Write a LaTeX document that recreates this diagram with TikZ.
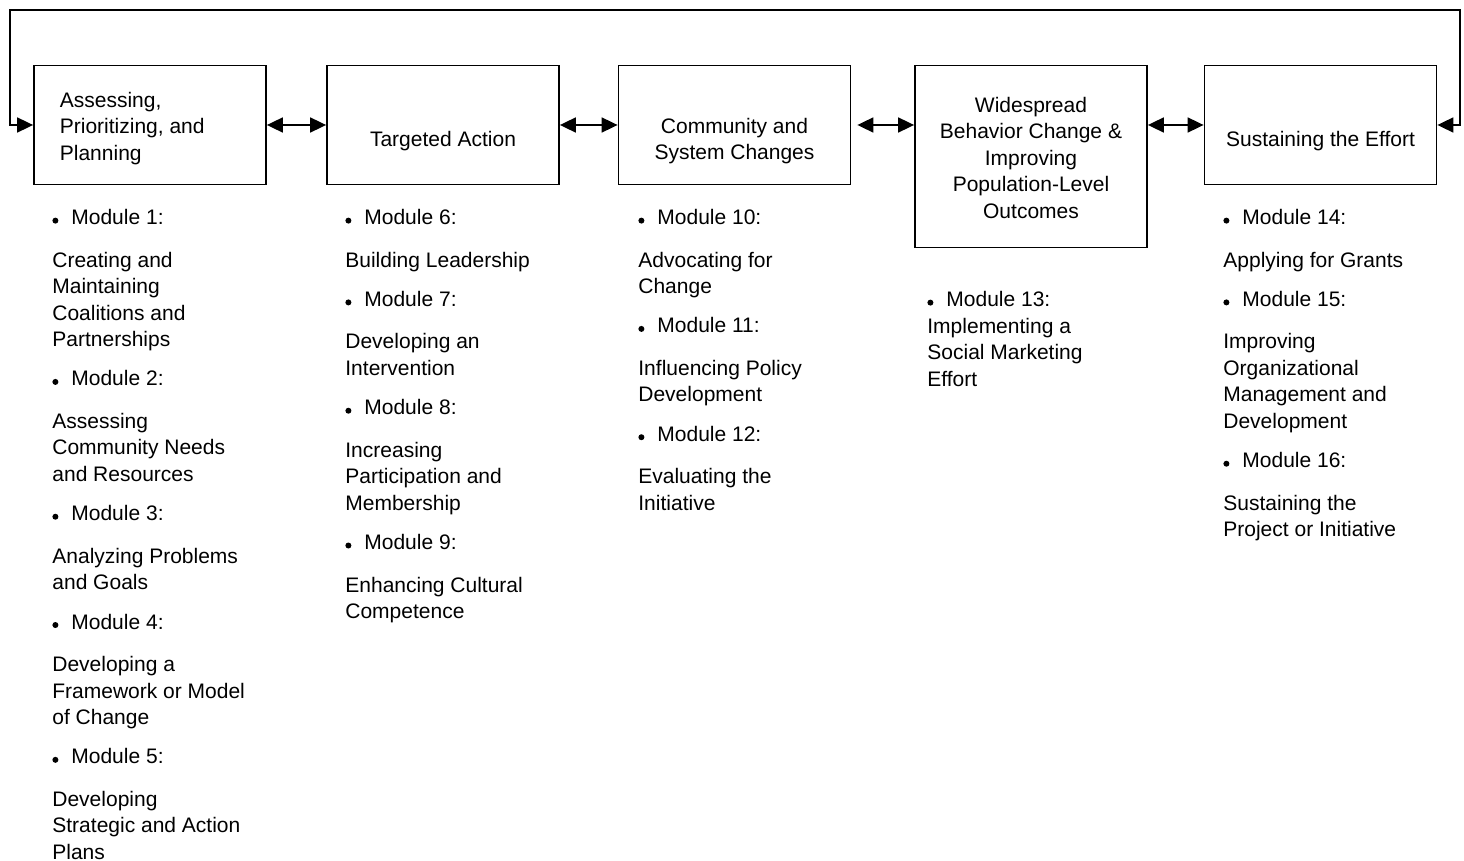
\documentclass[tikz,border=0pt]{standalone}
\usepackage{fontspec}
\setmainfont{Liberation Sans}
\usetikzlibrary{arrows.meta}

\newcommand{\modbul}[1]{\tikz[baseline=0pt]\fill (1.5pt,2pt) circle (1.5pt);\hspace{6.5pt}Module #1:}

\begin{document}
\begin{tikzpicture}[x=0.5pt, y=-0.5pt, line width=0.9pt,
    every node/.style={font=\fontsize{10.5}{13.25}\selectfont, inner sep=0pt},
    box/.style={draw, minimum width=116pt, minimum height=59.5pt},
    list/.style={anchor=north west, align=left},
    >={Triangle[length=8pt,width=7.5pt]}]
  \useasboundingbox (0,0) rectangle (1464,861);

  % Stage boxes
  \node[box] (assess) at (150,125) {};
  \node[box] (target) at (443,125) {};
  \node[box] (community) at (734.5,125) {};
  \node[box, minimum height=91pt] (widespread) at (1031,156.5) {};
  \node[box] (sustain) at (1320.5,125) {};

  % Box titles
  \node[anchor=north west, align=left] (assess-t) at (59,91) {Assessing,\\ Prioritizing, and\\ Planning};
  \node[anchor=north] (target-t) at (443,130) {Targeted Action};
  \node[anchor=north, align=center] (community-t) at (734.5,117) {Community and\\ System Changes};
  \node[anchor=north, align=center] (widespread-t) at (1031,96) {Widespread\\ Behavior Change \&\\ Improving\\ Population-Level\\ Outcomes};
  \node[anchor=north] (sustain-t) at (1320.5,130) {Sustaining the Effort};

  % Arrows between stages
  \draw[<->] (assess) -- (target);
  \draw[<->] (target) -- (community);
  \draw[<->, shorten <=3pt] (community.east) -- (community.east -| widespread.west);
  \draw[<->] (widespread.east |- sustain.west) -- (sustain);

  % Loop back over the top
  \coordinate (loopL) at (10,10);
  \coordinate (loopR) at (1460,10);
  \draw[<->] (assess.west) -| (loopL) -- (loopR) |- (sustain.east);

  % Module lists
  \node[list] (assess-m) at (52,209) {\modbul{1}\\[8pt]
    Creating and\\ Maintaining\\ Coalitions and\\ Partnerships\\[6.4pt]
    \modbul{2}\\[8pt]
    Assessing\\ Community Needs\\ and Resources\\[6.4pt]
    \modbul{3}\\[8pt]
    Analyzing Problems\\ and Goals\\[6.4pt]
    \modbul{4}\\[8pt]
    Developing a\\ Framework or Model\\ of Change\\[6.4pt]
    \modbul{5}\\[8pt]
    Developing\\ Strategic and Action\\ Plans};
  \node[list] (target-m) at (345,209) {\modbul{6}\\[8pt]
    Building Leadership\\[6.4pt]
    \modbul{7}\\[8pt]
    Developing an\\ Intervention\\[6.4pt]
    \modbul{8}\\[8pt]
    Increasing\\ Participation and\\ Membership\\[6.4pt]
    \modbul{9}\\[8pt]
    Enhancing Cultural\\ Competence};
  \node[list] (community-m) at (638,209) {\modbul{10}\\[8pt]
    Advocating for\\ Change\\[6.4pt]
    \modbul{11}\\[8pt]
    Influencing Policy\\ Development\\[6.4pt]
    \modbul{12}\\[8pt]
    Evaluating the\\ Initiative};
  \node[list] (widespread-m) at (927,291) {\modbul{13}\\
    Implementing a\\ Social Marketing\\ Effort};
  \node[list] (sustain-m) at (1223,209) {\modbul{14}\\[8pt]
    Applying for Grants\\[6.4pt]
    \modbul{15}\\[8pt]
    Improving\\ Organizational\\ Management and\\ Development\\[6.4pt]
    \modbul{16}\\[8pt]
    Sustaining the\\ Project or Initiative};
\end{tikzpicture}
\end{document}
